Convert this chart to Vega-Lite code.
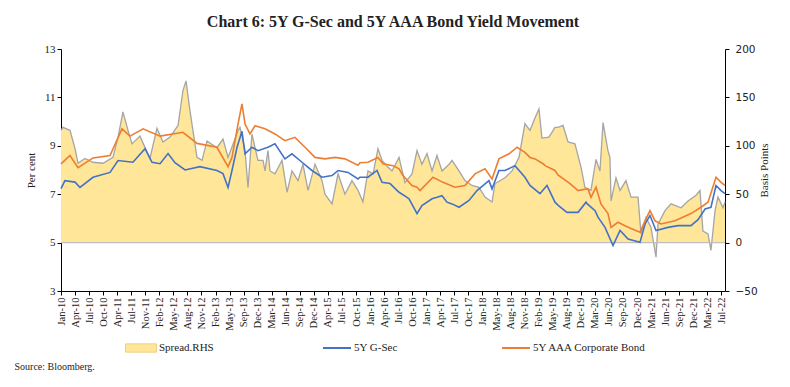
{
  "$schema": "https://vega.github.io/schema/vega-lite/v6.json",
  "width": 664,
  "height": 242,
  "autosize": {"type": "none"},
  "padding": {"left": 61, "top": 49, "right": 65, "bottom": 96},
  "background": "white",
  "title": {"text": "Chart 6: 5Y G-Sec and 5Y AAA Bond Yield Movement", "font": "Liberation Serif", "fontSize": 16, "fontWeight": "bold", "color": "#222222", "offset": 13, "anchor": "middle"},
  "config": {
    "view": {"stroke": null},
    "axis": {"labelFont": "Liberation Serif", "titleFont": "Liberation Serif", "labelColor": "#222222", "titleColor": "#222222", "domainColor": "#000000", "tickColor": "#000000", "grid": false, "titleFontWeight": "normal", "labelFontSize": 11, "titleFontSize": 11, "tickSize": 4},
    "legend": {"labelFont": "Liberation Serif", "labelFontSize": 11, "labelColor": "#222222"}
  },
  "datasets": {
    "spread": [
      {"t":0,"s":116},{"t":0.14,"s":119},{"t":0.64,"s":116},{"t":1.0,"s":97},{"t":1.21,"s":82},{"t":1.71,"s":87},{"t":2.28,"s":83},{"t":2.99,"s":82},{"t":3.7,"s":88},{"t":4.06,"s":109},{"t":4.41,"s":135},{"t":4.77,"s":116},{"t":5.05,"s":102},{"t":5.62,"s":110},{"t":6.33,"s":87},{"t":6.83,"s":118},{"t":7.26,"s":104},{"t":7.76,"s":109},{"t":8.33,"s":121},{"t":8.68,"s":157},{"t":8.9,"s":167},{"t":9.18,"s":136},{"t":9.68,"s":88},{"t":10.04,"s":85},{"t":10.39,"s":105},{"t":11.1,"s":98},{"t":11.53,"s":107},{"t":11.89,"s":88},{"t":12.38,"s":107},{"t":12.6,"s":116},{"t":12.74,"s":119},{"t":13.1,"s":95},{"t":13.31,"s":57},{"t":13.59,"s":112},{"t":14.02,"s":85},{"t":14.38,"s":85},{"t":14.52,"s":74},{"t":14.73,"s":95},{"t":14.88,"s":74},{"t":15.23,"s":71},{"t":15.73,"s":85},{"t":16.09,"s":52},{"t":16.44,"s":74},{"t":16.87,"s":64},{"t":17.22,"s":81},{"t":17.58,"s":54},{"t":18.08,"s":81},{"t":18.58,"s":64},{"t":18.79,"s":50},{"t":19.29,"s":40},{"t":19.72,"s":71},{"t":20.21,"s":50},{"t":20.71,"s":64},{"t":21.14,"s":54},{"t":21.49,"s":42},{"t":21.85,"s":74},{"t":22.21,"s":71},{"t":22.56,"s":97},{"t":22.85,"s":85},{"t":23.27,"s":78},{"t":23.56,"s":74},{"t":24.06,"s":88},{"t":24.48,"s":62},{"t":24.98,"s":71},{"t":25.34,"s":95},{"t":25.69,"s":81},{"t":26.05,"s":92},{"t":26.41,"s":74},{"t":26.76,"s":90},{"t":27.12,"s":74},{"t":27.62,"s":81},{"t":27.83,"s":85},{"t":28.33,"s":74},{"t":28.75,"s":64},{"t":29.25,"s":59},{"t":29.75,"s":57},{"t":30.18,"s":47},{"t":30.68,"s":42},{"t":30.89,"s":61},{"t":31.6,"s":67},{"t":32.1,"s":74},{"t":32.6,"s":88},{"t":33.02,"s":123},{"t":33.38,"s":116},{"t":33.74,"s":129},{"t":34.02,"s":138},{"t":34.23,"s":108},{"t":34.73,"s":109},{"t":35.16,"s":119},{"t":35.37,"s":119},{"t":35.73,"s":121},{"t":36.09,"s":104},{"t":36.58,"s":102},{"t":37.01,"s":78},{"t":37.29,"s":57},{"t":37.72,"s":54},{"t":38.08,"s":86},{"t":38.36,"s":74},{"t":38.58,"s":124},{"t":38.93,"s":95},{"t":39.07,"s":88},{"t":39.15,"s":43},{"t":39.5,"s":67},{"t":39.79,"s":54},{"t":40.21,"s":64},{"t":40.57,"s":47},{"t":41.07,"s":47},{"t":41.28,"s":9},{"t":41.64,"s":26},{"t":41.99,"s":16},{"t":42.35,"s":-15},{"t":42.49,"s":19},{"t":42.99,"s":33},{"t":43.42,"s":40},{"t":44.13,"s":36},{"t":44.63,"s":43},{"t":45.2,"s":49},{"t":45.48,"s":54},{"t":45.69,"s":12},{"t":46.05,"s":9},{"t":46.26,"s":-8},{"t":46.55,"s":33},{"t":46.76,"s":47},{"t":47.12,"s":36},{"t":47.26,"s":42}
    ],
    "gsec": [
      {"t":0,"v":7.23},{"t":0.28,"v":7.56},{"t":1.0,"v":7.5},{"t":1.35,"v":7.28},{"t":2.28,"v":7.7},{"t":3.49,"v":7.9},{"t":4.06,"v":8.39},{"t":5.12,"v":8.32},{"t":5.98,"v":8.88},{"t":6.48,"v":8.32},{"t":7.05,"v":8.26},{"t":7.62,"v":8.68},{"t":8.11,"v":8.3},{"t":8.83,"v":8.0},{"t":9.89,"v":8.14},{"t":11.1,"v":7.98},{"t":11.53,"v":7.85},{"t":11.89,"v":7.28},{"t":12.17,"v":7.98},{"t":12.53,"v":8.94},{"t":12.88,"v":9.6},{"t":13.1,"v":8.67},{"t":13.59,"v":8.94},{"t":14.02,"v":8.8},{"t":14.73,"v":8.94},{"t":15.23,"v":9.08},{"t":15.94,"v":8.46},{"t":16.44,"v":8.67},{"t":17.15,"v":8.32},{"t":17.86,"v":7.98},{"t":18.58,"v":7.7},{"t":19.29,"v":7.77},{"t":19.72,"v":7.98},{"t":20.43,"v":7.9},{"t":21.14,"v":7.63},{"t":21.28,"v":7.7},{"t":21.85,"v":7.7},{"t":22.49,"v":7.98},{"t":22.85,"v":7.49},{"t":23.42,"v":7.44},{"t":24.06,"v":7.08},{"t":24.63,"v":6.87},{"t":24.77,"v":6.81},{"t":25.34,"v":6.2},{"t":25.69,"v":6.53},{"t":26.41,"v":6.81},{"t":26.76,"v":6.87},{"t":27.12,"v":6.94},{"t":27.47,"v":6.67},{"t":27.83,"v":6.6},{"t":28.33,"v":6.46},{"t":29.04,"v":6.74},{"t":29.61,"v":7.15},{"t":30.46,"v":7.56},{"t":30.68,"v":7.22},{"t":31.17,"v":7.98},{"t":31.6,"v":7.98},{"t":32.31,"v":8.18},{"t":33.02,"v":7.7},{"t":33.38,"v":7.36},{"t":34.09,"v":7.02},{"t":34.59,"v":7.36},{"t":35.16,"v":6.67},{"t":35.37,"v":6.55},{"t":36.01,"v":6.25},{"t":36.8,"v":6.25},{"t":37.37,"v":6.67},{"t":37.44,"v":6.61},{"t":38.01,"v":6.32},{"t":38.22,"v":6.05},{"t":38.72,"v":5.63},{"t":39.29,"v":4.88},{"t":39.79,"v":5.5},{"t":40.36,"v":5.15},{"t":41.21,"v":5.01},{"t":41.57,"v":5.77},{"t":41.92,"v":6.12},{"t":42.35,"v":5.5},{"t":43.2,"v":5.63},{"t":43.91,"v":5.7},{"t":44.84,"v":5.7},{"t":45.34,"v":5.95},{"t":45.84,"v":6.39},{"t":46.26,"v":6.46},{"t":46.62,"v":7.36},{"t":46.98,"v":7.15},{"t":47.26,"v":7.02}
    ],
    "aaa": [
      {"t":0,"v":8.25},{"t":0.64,"v":8.6},{"t":1.21,"v":8.1},{"t":2.28,"v":8.5},{"t":3.49,"v":8.6},{"t":4.34,"v":9.7},{"t":4.91,"v":9.4},{"t":5.84,"v":9.7},{"t":7.05,"v":9.4},{"t":8.68,"v":9.56},{"t":9.68,"v":9.1},{"t":11.1,"v":8.94},{"t":11.89,"v":8.14},{"t":12.17,"v":8.52},{"t":12.6,"v":9.9},{"t":12.88,"v":10.73},{"t":13.1,"v":9.9},{"t":13.45,"v":9.49},{"t":13.81,"v":9.83},{"t":14.52,"v":9.7},{"t":15.23,"v":9.49},{"t":15.94,"v":9.21},{"t":16.65,"v":9.35},{"t":17.37,"v":8.94},{"t":18.08,"v":8.52},{"t":18.79,"v":8.46},{"t":19.5,"v":8.52},{"t":20.21,"v":8.46},{"t":21.14,"v":8.2},{"t":21.28,"v":8.3},{"t":21.85,"v":8.32},{"t":22.56,"v":8.52},{"t":22.92,"v":8.26},{"t":23.63,"v":8.18},{"t":24.06,"v":8.05},{"t":24.34,"v":7.77},{"t":24.98,"v":7.36},{"t":25.34,"v":7.29},{"t":25.55,"v":7.15},{"t":26.48,"v":7.7},{"t":27.19,"v":7.49},{"t":28.04,"v":7.29},{"t":28.75,"v":7.36},{"t":29.47,"v":7.84},{"t":30.18,"v":8.05},{"t":30.68,"v":7.63},{"t":31.17,"v":8.46},{"t":31.89,"v":8.67},{"t":32.46,"v":8.94},{"t":33.02,"v":8.73},{"t":33.38,"v":8.52},{"t":33.74,"v":8.46},{"t":34.31,"v":8.26},{"t":34.45,"v":8.18},{"t":35.16,"v":7.98},{"t":35.37,"v":7.8},{"t":36.23,"v":7.44},{"t":36.8,"v":7.15},{"t":37.51,"v":7.23},{"t":37.72,"v":6.87},{"t":38.08,"v":7.29},{"t":38.43,"v":6.6},{"t":38.93,"v":6.2},{"t":39.15,"v":5.63},{"t":39.64,"v":5.84},{"t":40.14,"v":5.7},{"t":40.57,"v":5.58},{"t":41.21,"v":5.43},{"t":41.57,"v":5.9},{"t":41.92,"v":6.32},{"t":42.28,"v":5.9},{"t":42.7,"v":5.77},{"t":43.7,"v":5.9},{"t":44.84,"v":6.2},{"t":45.55,"v":6.46},{"t":46.05,"v":6.67},{"t":46.62,"v":7.7},{"t":46.98,"v":7.49},{"t":47.26,"v":7.36}
    ]
  },
  "encoding": {
    "x": {
      "field": "t", "type": "quantitative",
      "scale": {"domain": [0, 47.26], "nice": false, "zero": false},
      "axis": {
        "values": [0,1,2,3,4,5,6,7,8,9,10,11,12,13,14,15,16,17,18,19,20,21,22,23,24,25,26,27,28,29,30,31,32,33,34,35,36,37,38,39,40,41,42,43,44,45,46,47],
        "labelExpr": "['Jan-10','Apr-10','Jul-10','Oct-10','Apr-11','Jul-11','Nov-11','Feb-12','May-12','Aug-12','Nov-12','Feb-13','May-13','Sep-13','Dec-13','Mar-14','Jun-14','Sep-14','Dec-14','Apr-15','Jul-15','Oct-15','Jan-16','Apr-16','Jul-16','Oct-16','Jan-17','Apr-17','Jul-17','Oct-17','Jan-18','May-18','Aug-18','Nov-18','Feb-19','May-19','Aug-19','Dec-19','Mar-20','Jun-20','Sep-20','Dec-20','Mar-21','Jun-21','Sep-21','Dec-21','Mar-22','Jul-22'][round(datum.value)]",
        "labelAngle": 270, "labelFontSize": 10.5, "labelPadding": 2, "labelOverlap": false,
        "title": "Source: Bloomberg.", "titleAnchor": "start", "titleAlign": "left", "titleX": -47, "titleY": 78, "titleFontSize": 10, "titleBaseline": "alphabetic"
      }
    }
  },
  "layer": [
    {
      "encoding": {
        "y": {"field": "s", "type": "quantitative", "scale": {"domain": [-50, 200], "nice": false},
          "axis": {"orient": "right", "values": [-50,0,50,100,150,200], "title": "Basis Points", "titleAngle": 270, "labelFont": "DejaVu Sans", "labelFontSize": 10.5, "labelPadding": 6, "titlePadding": 12}}
      },
      "layer": [
        {"data": {"name": "spread"}, "mark": {"type": "area", "color": "#FFE699"},
         "encoding": {"fill": {"datum": "Spread.RHS", "scale": {"domain": ["Spread.RHS"], "range": ["#FFE699"]},
           "legend": {"orient": "none", "legendX": 64, "legendY": 283, "title": null, "symbolType": "M-1,-0.27H1V0.27H-1Z", "symbolSize": 961, "symbolStrokeColor": "#E8C96E", "symbolStrokeWidth": 0.8, "labelOffset": 2}}}},
        {"data": {"name": "spread"}, "mark": {"type": "line", "color": "#A5A5A5", "strokeWidth": 1.3}},
        {"data": {"values": [{"z": 0}]}, "mark": {"type": "rule", "color": "#BFBFBF", "strokeWidth": 1.2}, "encoding": {"y": {"field": "z", "type": "quantitative"}, "x": null}}
      ]
    },
    {
      "encoding": {
        "y": {"field": "v", "type": "quantitative", "scale": {"domain": [3, 13], "nice": false, "zero": false},
          "axis": {"orient": "left", "values": [3,5,7,9,11,13], "title": "Per cent", "titlePadding": 8}},
        "stroke": {"datum": "x", "type": "nominal"}
      },
      "layer": [
        {"data": {"name": "gsec"}, "mark": {"type": "line", "strokeWidth": 1.6},
         "encoding": {"stroke": {"datum": "5Y G-Sec", "scale": {"domain": ["5Y G-Sec", "5Y AAA Corporate Bond"], "range": ["#4472C4", "#ED7D31"]},
           "legend": {"orient": "none", "legendX": 261, "legendY": 284, "direction": "horizontal", "columns": 2, "gridAlign": "all", "columnPadding": 30, "title": null, "symbolType": "stroke", "symbolSize": 784, "symbolStrokeWidth": 2, "labelOffset": 2}}}},
        {"data": {"name": "aaa"}, "mark": {"type": "line", "strokeWidth": 1.6},
         "encoding": {"stroke": {"datum": "5Y AAA Corporate Bond"}}}
      ]
    }
  ],
  "resolve": {"scale": {"y": "independent"}}
}
